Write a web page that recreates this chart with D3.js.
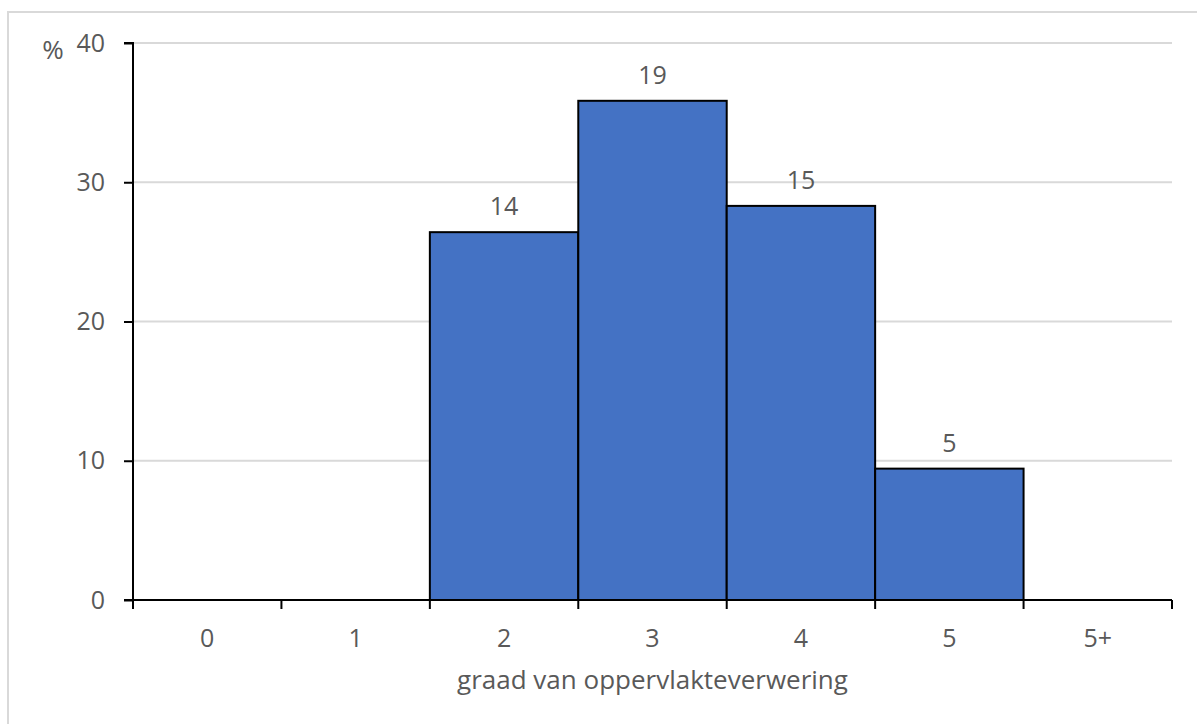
<!DOCTYPE html>
<html>
<head>
<meta charset="utf-8">
<script src="https://cdn.jsdelivr.net/npm/d3@7"></script>
<style>
  html, body { margin: 0; padding: 0; background: #fff; }
  svg { display: block; }
  text { font-family: "Open Sans", "Noto Sans", sans-serif; fill: #595959; }
</style>
</head>
<body>
<svg id="chart" width="1197" height="724"></svg>
<script>
// Weathering grade categories and number of samples per grade
const categories = ["0", "1", "2", "3", "4", "5", "5+"];
const counts = [0, 0, 14, 19, 15, 5, 0];
const yTicks = [0, 10, 20, 30, 40];
const yUnit = "%";
const xTitle = "graad van oppervlakteverwering";

const total = d3.sum(counts);
const percents = counts.map(c => c / total * 100);

const svg = d3.select("#chart");
const W = 1197, H = 724;
const margin = { left: 133, right: W - 1172, top: 43, bottom: H - 600 };
const fs = "25px";

// Outer chart-area border
svg.append("rect")
  .attr("x", 8).attr("y", 12)
  .attr("width", W + 10).attr("height", H + 10)
  .attr("fill", "#fff")
  .attr("stroke", "#d9d9d9")
  .attr("stroke-width", 2);

const x = d3.scaleBand()
  .domain(categories)
  .range([margin.left, W - margin.right])
  .paddingInner(0).paddingOuter(0);

const y = d3.scaleLinear()
  .domain([0, 40])
  .range([H - margin.bottom, margin.top]);

// Horizontal gridlines
svg.append("g")
  .selectAll("line")
  .data(yTicks.filter(t => t > 0))
  .join("line")
  .attr("x1", margin.left).attr("x2", W - margin.right)
  .attr("y1", d => y(d)).attr("y2", d => y(d))
  .attr("stroke", "#d9d9d9")
  .attr("stroke-width", 2);

const barData = categories.map((c, i) => ({ c, p: percents[i], n: counts[i] })).filter(d => d.n > 0);

// Bars
svg.append("g")
  .selectAll("rect")
  .data(barData)
  .join("rect")
  .attr("x", d => x(d.c))
  .attr("y", d => y(d.p))
  .attr("width", x.bandwidth())
  .attr("height", d => y(0) - y(d.p))
  .attr("fill", "#4472c4")
  .attr("stroke", "#000")
  .attr("stroke-width", 2);

// Count labels above bars
svg.append("g")
  .selectAll("text")
  .data(barData)
  .join("text")
  .attr("x", d => x(d.c) + x.bandwidth() / 2)
  .attr("y", d => y(d.p) - 17)
  .attr("text-anchor", "middle")
  .style("font-size", fs)
  .text(d => d.n);

// Y axis
const yAxis = d3.axisLeft(y).tickValues(yTicks).tickSize(9).tickPadding(19);
const gy = svg.append("g")
  .attr("transform", `translate(${margin.left},0)`)
  .call(yAxis);
gy.select(".domain").attr("stroke", "#000").attr("stroke-width", 2)
  .attr("d", `M${-9},${y(40)}H0V${y(0)}H${-9}`);
gy.selectAll(".tick line").attr("stroke", "#000").attr("stroke-width", 2);
gy.selectAll(".tick text").attr("fill", "#595959")
  .style("font-size", fs).style("font-family", "'Open Sans', sans-serif");

// Y unit label
svg.append("text")
  .attr("x", 53).attr("y", 59)
  .attr("text-anchor", "middle")
  .style("font-size", "26px")
  .text(yUnit);

// X axis with ticks at category boundaries
const gx = svg.append("g")
  .attr("transform", `translate(0,${y(0)})`);
gx.append("line")
  .attr("x1", margin.left).attr("x2", W - margin.right)
  .attr("y1", 0).attr("y2", 0)
  .attr("stroke", "#000").attr("stroke-width", 2);
const boundaries = categories.map(c => x(c)).concat([x(categories[categories.length - 1]) + x.bandwidth()]);
gx.selectAll("line.tk")
  .data(boundaries)
  .join("line")
  .attr("class", "tk")
  .attr("x1", d => d).attr("x2", d => d)
  .attr("y1", 0).attr("y2", 9)
  .attr("stroke", "#000").attr("stroke-width", 2);
gx.selectAll("text")
  .data(categories)
  .join("text")
  .attr("x", d => x(d) + x.bandwidth() / 2)
  .attr("y", 47)
  .attr("text-anchor", "middle")
  .style("font-size", fs)
  .text(d => d);

// X axis title
svg.append("text")
  .attr("x", (margin.left + W - margin.right) / 2)
  .attr("y", 689)
  .attr("text-anchor", "middle")
  .style("font-size", "26px")
  .text(xTitle);
</script>
</body>
</html>
